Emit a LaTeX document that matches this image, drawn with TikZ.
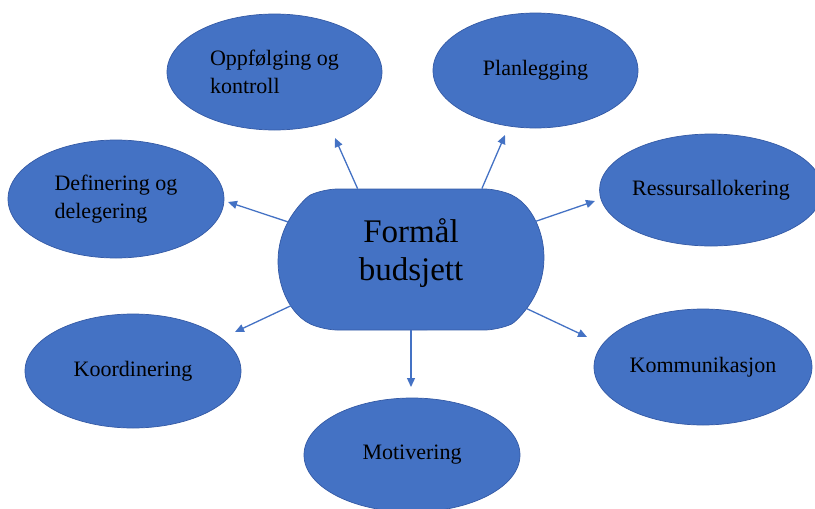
\documentclass[tikz,border=0pt]{standalone}
\usepackage{fontspec}
\setmainfont{Liberation Serif}
\usetikzlibrary{arrows.meta,shapes.geometric,shapes.misc}
\definecolor{Office}{RGB}{68,114,196}
\definecolor{OfficeEdge}{RGB}{52,90,165}

\begin{document}
\begin{tikzpicture}[x=1pt, y=-1pt,
    oval/.style={ellipse, draw=OfficeEdge, line width=0.7pt, fill=Office, inner sep=0pt,
      align=left, font=\fontsize{22}{28}\selectfont},
    hub/.style={rounded rectangle, rounded rectangle arc length=130, rounded corners=14pt,
      draw=OfficeEdge, line width=0.7pt, fill=Office, minimum width=272pt, minimum height=141pt,
      align=center, text depth=19pt, font=\fontsize{33}{38}\selectfont},
    arr/.style={-{Triangle[length=9pt, width=8pt]}, line width=1.3pt, draw=Office}
  ]
    \useasboundingbox (0,0) rectangle (815,509);

    \node[hub] (mid) at (411,259.5) {Formål\\budsjett};

    \node[oval, minimum width=215pt, minimum height=116pt] (opp) at (274.5,72) {Oppfølging og\\kontroll};
    \node[oval, minimum width=205pt, minimum height=115pt] (plan) at (535.5,70.5) {Planlegging};
    \node[oval, minimum width=208pt, minimum height=112pt] (ress) at (711,190) {Ressursallokering};
    \node[oval, minimum width=216pt, minimum height=118pt] (def) at (116,199) {Definering og\\delegering};
    \node[oval, minimum width=216pt, minimum height=114pt] (koord) at (133,371) {Koordinering};
    \node[oval, minimum width=218pt, minimum height=116pt] (komm) at (703,367) {Kommunikasjon};
    \node[oval, minimum width=216pt, minimum height=114pt] (mot) at (412,455) {Motivering};

    % arrow tips stop short of the ovals
    \coordinate (toOpp) at (335,138);
    \coordinate (toPlan) at (505,135);
    \coordinate (toRess) at (595,201);
    \coordinate (toDef) at (228,202);
    \coordinate (toKoord) at (235,332);
    \coordinate (toMot) at (411,387);
    \coordinate (toKomm) at (587,337);

    \draw[arr] (mid.127.5) -- (toOpp);
    \draw[arr] (mid.45.6) -- (toPlan);
    \draw[arr] (mid.17.4) -- (toRess);
    \draw[arr] (mid.163.4) -- (toDef);
    \draw[arr] (mid.201.8) -- (toKoord);
    \draw[arr] (mid.south) -- (toMot);
    \draw[arr] (mid.337.8) -- (toKomm);
  \end{tikzpicture}
\end{document}
